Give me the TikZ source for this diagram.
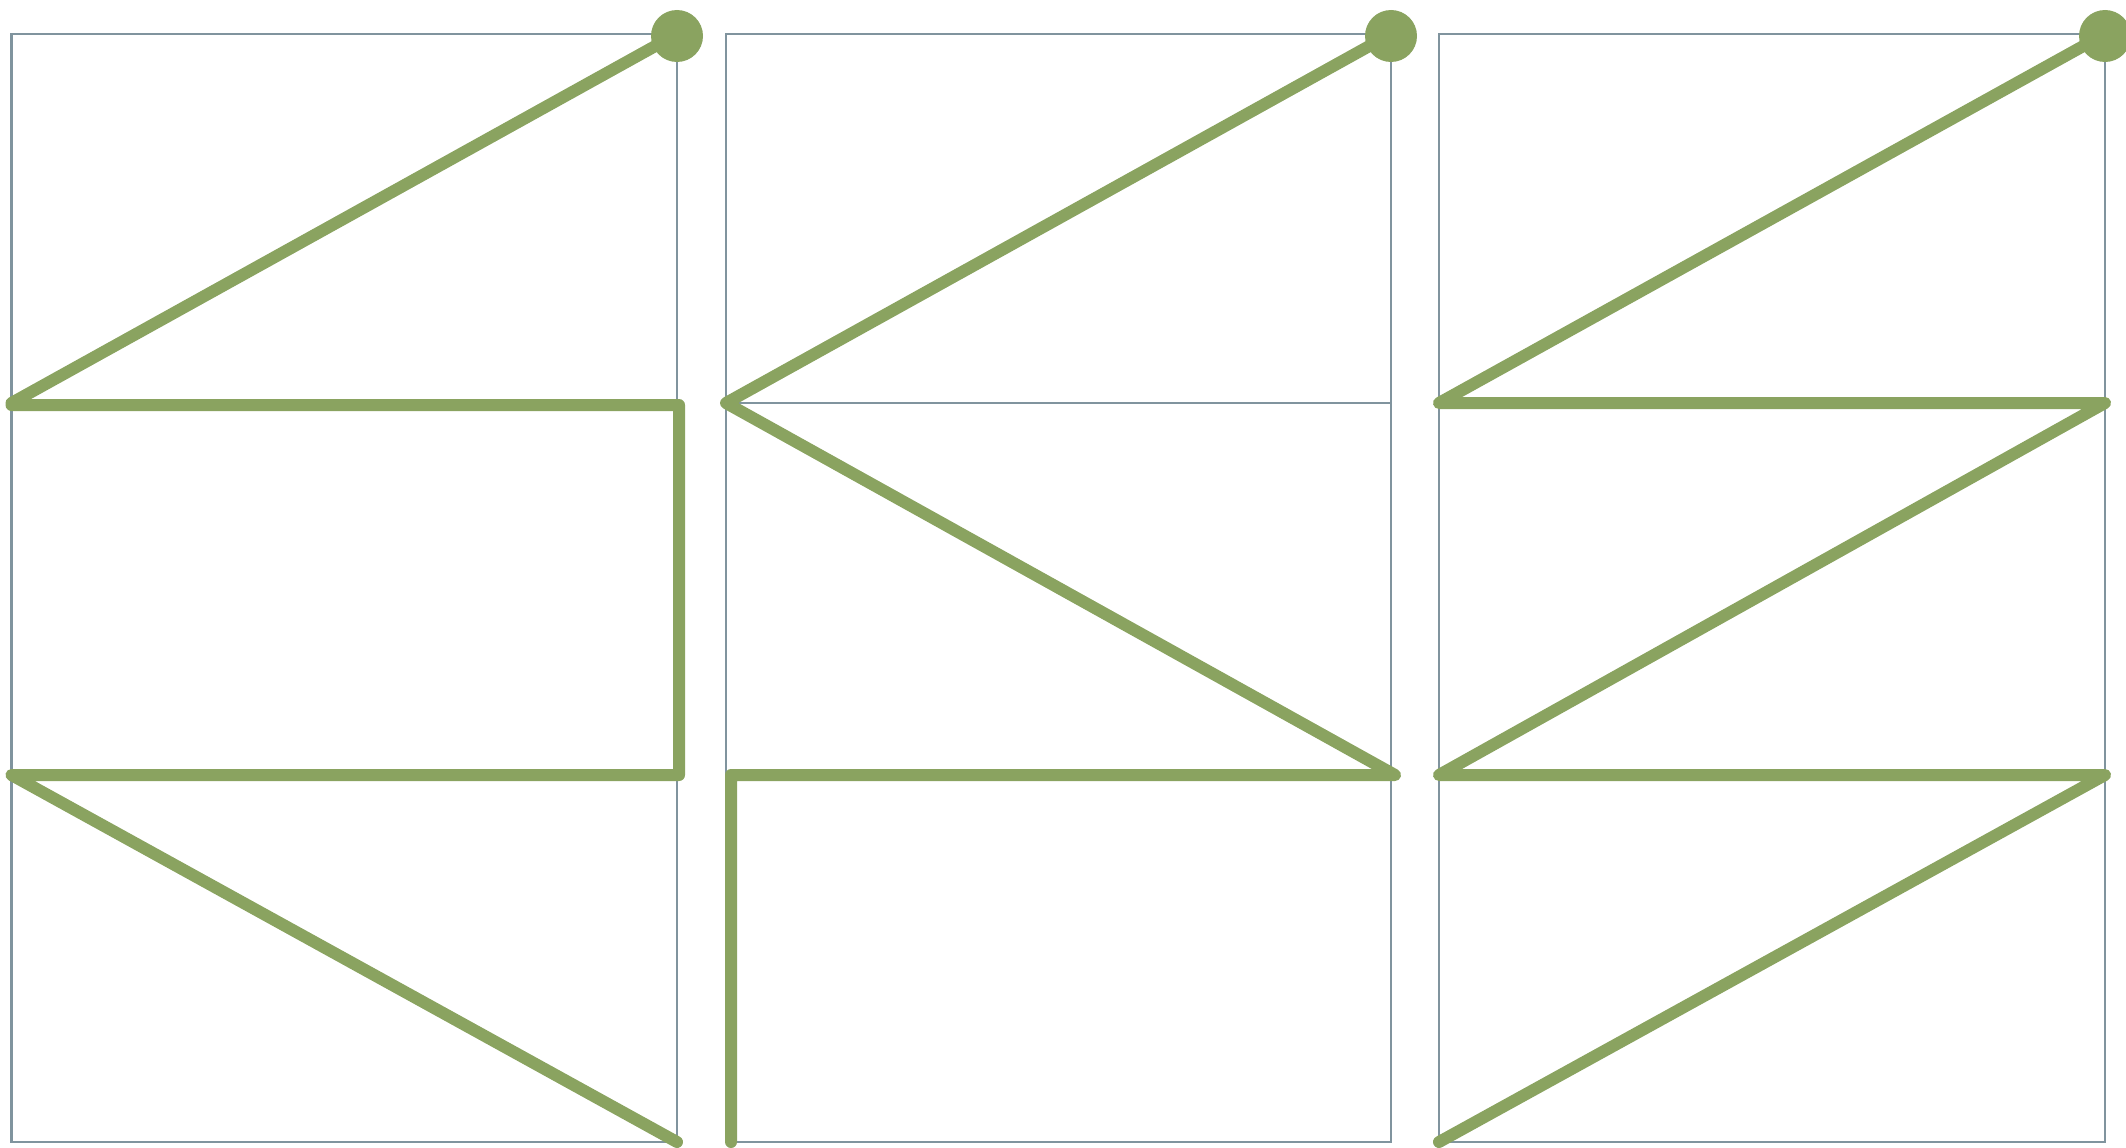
\documentclass[tikz,border=0pt]{standalone}
\definecolor{framegray}{RGB}{128,148,158}
\definecolor{pathgreen}{RGB}{138,163,96}
\begin{document}
\begin{tikzpicture}[x=1pt,y=-1pt,
  frame/.style={draw=framegray,line width=2.5pt},
  route/.style={draw=pathgreen,line width=12pt,line cap=round,line join=round},
  startdot/.style={circle,fill=pathgreen,minimum size=52pt,inner sep=0pt}]
\useasboundingbox (0,0) rectangle (2126,1148);
% panel 1 points
\coordinate (aTL) at (11.5,34);   \coordinate (aTR) at (677,34);
\coordinate (aML) at (11.5,403);  \coordinate (aMR) at (677,403);
\coordinate (aNL) at (11.5,775);  \coordinate (aNR) at (677,775);
\coordinate (aBL) at (11.5,1142); \coordinate (aBR) at (677,1142);
\coordinate (aK) at (11.5,405);   \coordinate (aM) at (679,405);    \coordinate (aN) at (679,775);
% panel 2 points
\coordinate (bTL) at (726,34);   \coordinate (bTR) at (1391,34);
\coordinate (bML) at (726,403);  \coordinate (bMR) at (1391,403);
\coordinate (bNL) at (726,775);  \coordinate (bNR) at (1391,775);
\coordinate (bBL) at (726,1142); \coordinate (bBR) at (1391,1142);
\coordinate (bN) at (1395,775);  \coordinate (bK) at (731,775); \coordinate (bE) at (731,1142);
% panel 3 points
\coordinate (cTL) at (1439,34);   \coordinate (cTR) at (2105,34);
\coordinate (cML) at (1439,403);  \coordinate (cMR) at (2105,403);
\coordinate (cNL) at (1439,775);  \coordinate (cNR) at (2105,775);
\coordinate (cBL) at (1439,1142); \coordinate (cBR) at (2105,1142);
% frames
\foreach \p in {a,b,c}{
  \draw[frame] (\p TL) rectangle (\p BR);
  \draw[frame] (\p ML) -- (\p MR);
  \draw[frame] (\p NL) -- (\p NR);
}
% routes
\draw[route] (aTR) -- (aML) -- (aK) -- (aM) -- (aN) -- (aNL) -- (aBR);
\draw[route] (bTR) -- (bML) -- (bN) -- (bK) -- (bE);
\draw[route] (cTR) -- (cML) -- (cMR) -- (cNL) -- (cNR) -- (cBL);
% start dots
\node[startdot] (adot) at (677,36) {};
\node[startdot] (bdot) at (1391,36) {};
\node[startdot] (cdot) at (2105,36) {};
\end{tikzpicture}
\end{document}
